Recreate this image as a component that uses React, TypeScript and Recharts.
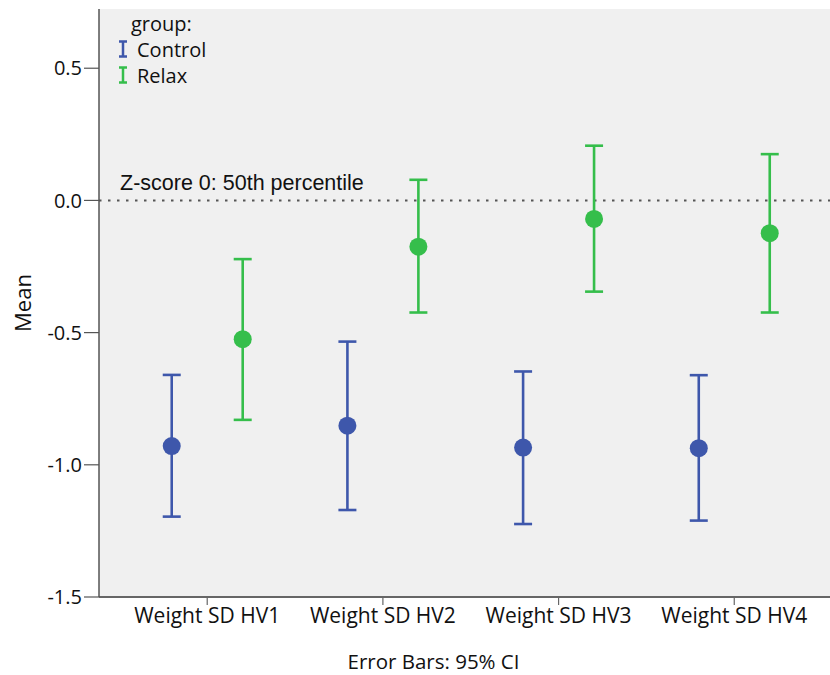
import React from 'react';
import {
  ComposedChart,
  Scatter,
  ErrorBar,
  XAxis,
  YAxis,
  CartesianGrid,
  ReferenceLine,
  Legend,
} from 'recharts';

const categories = ['Weight SD HV1', 'Weight SD HV2', 'Weight SD HV3', 'Weight SD HV4'];

const controlMean = [-0.929, -0.852, -0.935, -0.937];
const controlLower = [-1.196, -1.171, -1.224, -1.211];
const controlUpper = [-0.66, -0.534, -0.647, -0.661];

const relaxMean = [-0.525, -0.175, -0.07, -0.124];
const relaxLower = [-0.83, -0.424, -0.345, -0.424];
const relaxUpper = [-0.222, 0.078, 0.207, 0.175];

const yTicks = [-1.5, -1.0, -0.5, 0.0, 0.5];
const groupNames = ['Control', 'Relax'];

const BLUE = '#3E57AB';
const GREEN = '#35BE4B';
const DODGE = 0.202;

const buildSeries = (mean: number[], lower: number[], upper: number[], shift: number) =>
  categories.map((c, i) => ({
    x: i + 1 + shift,
    category: c,
    y: mean[i],
    err: [mean[i] - lower[i], upper[i] - mean[i]],
  }));

const controlData = buildSeries(controlMean, controlLower, controlUpper, -DODGE);
const relaxData = buildSeries(relaxMean, relaxLower, relaxUpper, DODGE);

const FONT = '"Open Sans", sans-serif';

const dot = (color: string) => (props: any) => (
  <circle cx={props.cx} cy={props.cy} r={9} fill={color} />
);

const IBeam = ({ color }: { color: string }) => (
  <svg width={10} height={18} style={{ display: 'block' }}>
    <line x1={1} y1={1.5} x2={9} y2={1.5} stroke={color} strokeWidth={2.5} />
    <line x1={5} y1={1.5} x2={5} y2={16.5} stroke={color} strokeWidth={2.5} />
    <line x1={1} y1={16.5} x2={9} y2={16.5} stroke={color} strokeWidth={2.5} />
  </svg>
);

const renderLegend = () => (
  <div style={{ fontFamily: FONT, fontSize: 20, color: '#111', lineHeight: '25px' }}>
    <div style={{ paddingLeft: 13 }}>group:</div>
    {groupNames.map((g, i) => (
      <div key={g} style={{ display: 'flex', alignItems: 'center', height: 26 }}>
        <IBeam color={i === 0 ? BLUE : GREEN} />
        <span style={{ marginLeft: 9 }}>{g}</span>
      </div>
    ))}
  </div>
);

export default function App() {
  return (
    <div style={{ position: 'absolute', left: 0, top: 0, background: '#fff' }}>
      <ComposedChart
        width={830}
        height={675}
        margin={{ top: 9, right: 0, bottom: 0, left: 0 }}
      >
        <CartesianGrid fill="#F0F0F0" horizontal={false} vertical={false} />
        <XAxis
          xAxisId="top"
          orientation="top"
          type="number"
          dataKey="x"
          domain={[0.384, 4.545]}
          allowDataOverflow
          tick={false}
          tickLine={false}
          height={0}
          axisLine={{ stroke: '#8C8C8C', strokeWidth: 2 }}
        />
        <XAxis
          type="number"
          dataKey="x"
          domain={[0.384, 4.545]}
          allowDataOverflow
          ticks={[1, 2, 3, 4]}
          tickFormatter={(v: number) => categories[Math.round(v) - 1]}
          height={78}
          tickSize={8}
          tickMargin={3}
          axisLine={{ stroke: '#666', strokeWidth: 2 }}
          tickLine={{ stroke: '#666', strokeWidth: 1.2 }}
          tick={{ fill: '#111', fontSize: 21, fontFamily: FONT }}
          label={(props: any) => {
            const vb = props.viewBox;
            return (
              <text
                x={vb.x + vb.width / 2 - 31}
                y={vb.y + 72}
                textAnchor="middle"
                fill="#111"
                fontSize={20.5}
                fontFamily={FONT}
              >
                Error Bars: 95% CI
              </text>
            );
          }}
        />
        <YAxis
          type="number"
          domain={[-1.5, 0.724]}
          allowDataOverflow
          ticks={yTicks}
          tickFormatter={(v: number) => v.toFixed(1)}
          width={99}
          tickSize={15}
          tickMargin={2}
          axisLine={{ stroke: '#555', strokeWidth: 1.5 }}
          tickLine={{ stroke: '#555', strokeWidth: 1.2 }}
          tick={{ fill: '#111', fontSize: 20, fontFamily: FONT }}
          label={(props: any) => {
            const vb = props.viewBox;
            const cy = vb.y + vb.height / 2;
            return (
              <text
                x={22}
                y={cy}
                transform={`rotate(-90, 22, ${cy})`}
                textAnchor="middle"
                dominantBaseline="central"
                fill="#111"
                fontSize={22}
                fontFamily={FONT}
              >
                Mean
              </text>
            );
          }}
        />
        <ReferenceLine
          y={0}
          stroke="#555"
          strokeWidth={2}
          strokeDasharray="2.5 6.5"
          label={(props: any) => {
            const vb = props.viewBox;
            return (
              <text
                x={vb.x + 21}
                y={vb.y - 10}
                fill="#111"
                fontSize={21.5}
                fontFamily='"Liberation Sans", Arial, sans-serif'
              >
                Z-score 0: 50th percentile
              </text>
            );
          }}
        />
        <Legend
          layout="vertical"
          align="center"
          verticalAlign="middle"
          content={renderLegend}
          wrapperStyle={{ left: 118, top: 11, width: 'auto', height: 'auto' }}
        />
        <Scatter
          name="Control"
          data={controlData}
          dataKey="y"
          fill={BLUE}
          shape={dot(BLUE)}
          isAnimationActive={false}
        >
          <ErrorBar
            dataKey="err"
            direction="y"
            width={9}
            stroke={BLUE}
            strokeWidth={2.6}
            isAnimationActive={false}
          />
        </Scatter>
        <Scatter
          name="Relax"
          data={relaxData}
          dataKey="y"
          fill={GREEN}
          shape={dot(GREEN)}
          isAnimationActive={false}
        >
          <ErrorBar
            dataKey="err"
            direction="y"
            width={9}
            stroke={GREEN}
            strokeWidth={2.6}
            isAnimationActive={false}
          />
        </Scatter>
      </ComposedChart>
    </div>
  );
}
